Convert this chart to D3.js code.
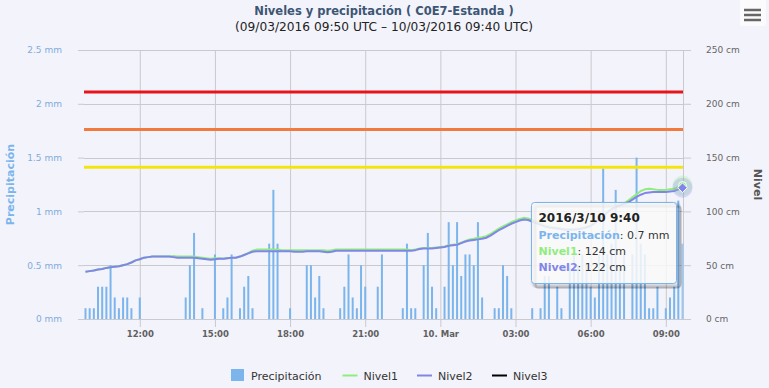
<!DOCTYPE html>
<html>
<head>
<meta charset="utf-8">
<script src="https://cdn.jsdelivr.net/npm/d3@7"></script>
<style>
body { margin: 0; background: #f3f3fb; }
svg { display: block; font-family: "DejaVu Sans", Verdana, sans-serif; }
</style>
</head>
<body>
<div id="chart"></div>
<script>
// datos: una lectura cada 10 minutos, desde 09/03/2016 09:50 UTC
var start = Date.UTC(2016, 2, 9, 9, 50);
var stepMin = 10;

// precipitacion (mm)
var precip = [
	0.1, 0.1, 0.1, 0.3, 0.3, 0.3, 0.5, 0.2, 0.1, 0.2, 0.2, 0.1,
	0, 0.2, 0, 0, 0, 0, 0, 0, 0, 0, 0, 0,
	0.2, 0.5, 0.8, 0, 0.1, 0, 0, 0.6, 0, 0.1, 0.2, 0.6,
	0, 0.1, 0.3, 0.4, 0.1, 0, 0, 0, 0.7, 1.2, 0.7, 0,
	0, 0.1, 0, 0, 0, 0.5, 0.5, 0.2, 0.4, 0.1, 0, 0,
	0, 0.1, 0.3, 0.6, 0.2, 0.1, 0.5, 0.3, 0, 0, 0.3, 0.6,
	0, 0, 0, 0, 0.1, 0.7, 0.1, 0.1, 0, 0.5, 0.8, 0.3,
	0.1, 0, 0.3, 0.9, 0.5, 0.9, 0.4, 0.6, 0.6, 0.5, 0.9, 0.2,
	0, 0, 0.1, 0.1, 0.5, 0.4, 0.1, 0, 0, 0, 0, 0.1,
	0, 0.1, 0.4, 0.4, 0, 0.3, 0.1, 0, 0.5, 0.6, 0.5, 0.6,
	0.5, 0.3, 0.2, 0.6, 1.4, 0.6, 0.7, 1.2, 0.5, 0.6, 0, 0.6,
	1.5, 0.7, 0.6, 0.1, 0.1, 0.3, 0, 0.1, 0.2, 0.3, 1.1, 0.7
];

// nivel 1 (cm)
var nivel1 = [
	44, 44.5, 45, 46, 46.5, 47.5, 48, 48.5, 49, 50, 51, 52.5,
	54.5, 55.5, 57, 57.5, 58, 58, 58, 58, 58, 58.5, 58, 58,
	58, 58, 58, 57.5, 57, 56.5, 56, 56.5, 56.5, 56, 56.5, 57,
	57, 58, 59.5, 61.5, 63.5, 64.5, 64.5, 64.5, 64.5, 64.5, 64.5, 64,
	64, 64, 64, 64, 64, 64, 64, 64, 64, 64, 63.5, 64,
	64.5, 64.5, 64.5, 64.5, 64.5, 64.5, 64.5, 64.5, 64.5, 64.5, 64.5, 64.5,
	64.5, 64.5, 64.5, 64.5, 64.5, 64.5, 64, 64.5, 65.5, 66, 66, 66,
	66.5, 67, 67.5, 68.5, 69, 69.5, 71, 72.5, 74, 74.5, 75.5, 76,
	77, 79, 81.5, 84, 86, 88, 90, 91.5, 93, 94, 93.5, 92,
	90.5, 88.5, 87, 86, 85, 84.5, 84, 83.5, 83.5, 83.5, 84, 84.5,
	85.5, 87, 89.5, 92.5, 96, 99.5, 102.5, 104.5, 106, 107.5, 110, 113,
	116, 119, 120.5, 121, 120.5, 120, 120, 120, 120.5, 121, 122.5, 124
];

// nivel 2 (cm)
var nivel2 = [
	44, 44.5, 45, 46, 46.5, 47.5, 48, 48.5, 49, 50, 51, 52.5,
	54.5, 55.5, 57, 57.5, 58, 58, 58, 58, 58, 57.5, 57, 57,
	57, 57, 57, 56.5, 56, 55.5, 55, 55.5, 56, 56, 56.5, 57,
	57, 58, 59.5, 61, 62.5, 63, 63, 63, 63, 63, 63, 63,
	63, 63, 62.5, 62.5, 62.5, 63, 63, 63, 63, 62.5, 62, 62.5,
	63.5, 63.5, 63.5, 63.5, 63.5, 63.5, 63.5, 63.5, 63.5, 63.5, 63.5, 63.5,
	63.5, 63.5, 63.5, 63.5, 63.5, 63.5, 63.5, 64, 65, 65.5, 65.5, 65.5,
	66, 66.5, 67, 68, 68.5, 69, 70.5, 72, 73, 73.5, 74, 74.5,
	75.5, 77.5, 80, 82.5, 84.5, 86.5, 88.5, 90, 91.5, 92.5, 92, 90.5,
	89, 87.5, 86, 85, 84.5, 84, 83.5, 83, 83, 83, 83.5, 84,
	85, 86.5, 89, 92, 95.5, 99, 102, 104, 105.5, 107, 108.5, 111,
	113.5, 115.5, 117, 117.5, 118, 118, 118, 118, 118.5, 119, 120.5, 122
];

// nivel 3 (cm): sin datos en el periodo
var nivel3 = [];

// umbrales (cm)
var umbrales = [141, 176, 211];

var seriesNames = ["Precipitación", "Nivel1", "Nivel2", "Nivel3"];
var mmTicks = [0, 0.5, 1, 1.5, 2, 2.5];
var cmTicks = [0, 50, 100, 150, 200, 250];

var titulo = "Niveles y precipitación ( C0E7-Estanda )";
var subtitulo = "(09/03/2016 09:50 UTC – 10/03/2016 09:40 UTC)";

// colores
var cPrecip = "#7cb5ec";
var cN1 = "#90ed7d";
var cN2 = "#8085e9";
var cN3 = "#000000";
var cUmbral = ["#f5e50f", "#f27a3c", "#e8141c"];
var cGrid = "#c9c9ce";

var svg_w = 769;
var svg_h = 388;
var plotL = 84, plotR = 683, plotT = 50, plotB = 319;

var svg = d3.select("#chart")
	.append("svg")
	.attr("width", svg_w)
	.attr("height", svg_h);

svg.append("rect")
	.attr("width", svg_w)
	.attr("height", svg_h)
	.attr("fill", "#f3f3fb");

var times = precip.map(function(d, i) {
	return new Date(start + i * stepMin * 60000);
});

// escalas
var x = d3.scaleUtc()
	.domain([times[0], times[times.length - 1]])
	.range([85.5, 682.5]);

var yP = d3.scaleLinear().domain([0, 2.5]).range([plotB, plotT]);
var yN = d3.scaleLinear().domain([0, 250]).range([plotB, plotT]);

var fmtTime = function(d) {
	if (d.getUTCHours() === 0) return d3.utcFormat("%d. %b")(d);
	return d3.utcFormat("%H:%M")(d);
};

// rejilla horizontal
svg.append("g")
	.selectAll("line")
	.data(mmTicks)
	.enter()
	.append("line")
	.attr("x1", plotL)
	.attr("x2", plotR)
	.attr("y1", function(d) { return Math.round(yP(d)) + 0.5; })
	.attr("y2", function(d) { return Math.round(yP(d)) + 0.5; })
	.attr("stroke", cGrid);

// rejilla vertical + eje x
var xAxis = d3.axisBottom(x)
	.ticks(d3.utcHour.every(3))
	.tickFormat(fmtTime)
	.tickSize(8)
	.tickSizeOuter(0)
	.tickPadding(4);

var gx = svg.append("g")
	.attr("transform", "translate(0," + plotB + ")")
	.call(xAxis);
gx.select(".domain").remove();
gx.selectAll(".tick line")
	.attr("y1", plotT - plotB)
	.attr("stroke", cGrid);
gx.selectAll(".tick text")
	.attr("fill", "#606060")
	.attr("font-weight", "bold")
	.attr("font-size", 8.5)
	.attr("font-family", "DejaVu Sans");

// eje izquierdo (mm)
var gl = svg.append("g")
	.attr("transform", "translate(" + plotL + ",0)")
	.call(d3.axisLeft(yP).tickValues(mmTicks).tickSize(6).tickPadding(16)
		.tickFormat(function(d) { return d + " mm"; }));
gl.select(".domain").remove();
gl.selectAll(".tick line").attr("stroke", cGrid);
gl.selectAll(".tick text")
	.attr("fill", "#80acdc")
	.attr("font-size", 9)
	.attr("font-family", "DejaVu Sans");

// eje derecho (cm)
var gr = svg.append("g")
	.attr("transform", "translate(" + plotR + ",0)")
	.call(d3.axisRight(yN).tickValues(cmTicks).tickSize(8).tickSizeOuter(0).tickPadding(15)
		.tickFormat(function(d) { return d + " cm"; }));
gr.select(".domain").attr("stroke", cGrid);
gr.selectAll(".tick line").attr("stroke", cGrid);
gr.selectAll(".tick text")
	.attr("fill", "#666")
	.attr("font-size", 9)
	.attr("font-family", "DejaVu Sans");

// titulos de ejes
svg.append("text")
	.attr("transform", "translate(14," + ((plotT + plotB) / 2) + ") rotate(-90)")
	.attr("text-anchor", "middle")
	.attr("font-size", 11)
	.attr("font-weight", "bold")
	.attr("fill", cPrecip)
	.text(seriesNames[0]);

svg.append("text")
	.attr("transform", "translate(754," + ((plotT + plotB) / 2) + ") rotate(90)")
	.attr("text-anchor", "middle")
	.attr("font-size", 11)
	.attr("font-weight", "bold")
	.attr("fill", "#555")
	.text("Nivel");

// barras de precipitacion
var bars = svg.append("g");
precip.forEach(function(v, i) {
	if (v <= 0) return;
	bars.append("rect")
		.attr("x", x(times[i]) - 1)
		.attr("width", 2)
		.attr("y", yP(v))
		.attr("height", plotB - yP(v))
		.attr("fill", i === precip.length - 1 ? "#9cc8f2" : cPrecip);
});

// umbrales
svg.append("g")
	.selectAll("line")
	.data(umbrales)
	.enter()
	.append("line")
	.attr("x1", plotL)
	.attr("x2", plotR)
	.attr("y1", function(d) { return yN(d); })
	.attr("y2", function(d) { return yN(d); })
	.attr("stroke", function(d, i) { return cUmbral[i]; })
	.attr("stroke-width", 3);

// lineas de nivel
var line = d3.line()
	.x(function(d, i) { return x(times[i]); })
	.y(function(d) { return yN(d); });

svg.append("path")
	.datum(nivel1)
	.attr("d", line)
	.attr("fill", "none")
	.attr("stroke", cN1)
	.attr("stroke-width", 2)
	.attr("stroke-linejoin", "round");

svg.append("path")
	.datum(nivel2)
	.attr("d", line)
	.attr("fill", "none")
	.attr("stroke", cN2)
	.attr("stroke-width", 2)
	.attr("stroke-linejoin", "round");

// marcadores del punto activo
var last = times.length - 1;
var lx = x(times[last]);
svg.append("circle")
	.attr("cx", lx).attr("cy", yN(nivel1[last])).attr("r", 10)
	.attr("fill", cN1).attr("fill-opacity", 0.25);
svg.append("circle")
	.attr("cx", lx).attr("cy", yN(nivel2[last])).attr("r", 10)
	.attr("fill", cN2).attr("fill-opacity", 0.25);
svg.append("circle")
	.attr("cx", lx).attr("cy", yN(nivel1[last])).attr("r", 4)
	.attr("fill", cN1).attr("stroke", "#fff");
svg.append("path")
	.attr("d", d3.symbol().type(d3.symbolDiamond2).size(60)())
	.attr("transform", "translate(" + lx + "," + yN(nivel2[last]) + ")")
	.attr("fill", cN2).attr("stroke", "#fff");

// tooltip
var tip = svg.append("g").attr("transform", "translate(531.5,202.5)");
[3, 2, 1].forEach(function(o) {
	tip.append("rect")
		.attr("x", 1).attr("y", 1)
		.attr("width", 145).attr("height", 81).attr("rx", 3)
		.attr("transform", "translate(" + o + "," + o + ")")
		.attr("fill", "none")
		.attr("stroke", "#000")
		.attr("stroke-opacity", 0.05 * o)
		.attr("stroke-width", 2 * (4 - o));
});
tip.append("rect")
	.attr("width", 145).attr("height", 81).attr("rx", 3)
	.attr("fill", "#f9f9f9").attr("fill-opacity", 0.85)
	.attr("stroke", cPrecip);

tip.append("text")
	.attr("x", 7).attr("y", 19)
	.attr("font-weight", "bold")
	.attr("font-size", 12)
	.attr("fill", "#222")
	.text(d3.utcFormat("%Y/%-m/%-d %-H:%M")(times[last]));

var tipRows = [
	[seriesNames[0], cPrecip, precip[last] + " mm"],
	[seriesNames[1], cN1, nivel1[last] + " cm"],
	[seriesNames[2], cN2, nivel2[last] + " cm"]
];
tipRows.forEach(function(r, k) {
	var t = tip.append("text")
		.attr("x", 7).attr("y", 36 + k * 16)
		.attr("font-size", 11)
		.attr("fill", "#333");
	t.append("tspan").attr("font-weight", "bold").attr("fill", r[1]).text(r[0]);
	t.append("tspan").text(": " + r[2]);
});

// titulo
svg.append("text")
	.attr("x", 384).attr("y", 15)
	.attr("text-anchor", "middle")
	.attr("font-size", 11.5)
	.attr("font-weight", "bold")
	.attr("fill", "#3d5674")
	.text(titulo);

svg.append("text")
	.attr("x", 384).attr("y", 31)
	.attr("text-anchor", "middle")
	.attr("font-size", 12.2)
	.attr("fill", "#222")
	.text(subtitulo);

// leyenda
var leg = svg.append("g").attr("font-size", 11).attr("fill", "#333");
leg.append("rect").attr("x", 231).attr("y", 369).attr("width", 13).attr("height", 12).attr("fill", cPrecip);
leg.append("text").attr("x", 251).attr("y", 380).text(seriesNames[0]);
var legLines = [[342.5, cN1, seriesNames[1]], [417, cN2, seriesNames[2]], [492, cN3, seriesNames[3]]];
legLines.forEach(function(l) {
	leg.append("line")
		.attr("x1", l[0]).attr("x2", l[0] + 15)
		.attr("y1", 375.5).attr("y2", 375.5)
		.attr("stroke", l[1]).attr("stroke-width", 2);
	leg.append("text").attr("x", l[0] + 21).attr("y", 380).text(l[2]);
});

// boton de menu
svg.append("rect")
	.attr("x", 740).attr("y", -3).attr("width", 26).attr("height", 29).attr("rx", 2)
	.attr("fill", "#fbfbfe");
[10, 15, 20].forEach(function(yy) {
	svg.append("line")
		.attr("x1", 744).attr("x2", 761)
		.attr("y1", yy).attr("y2", yy)
		.attr("stroke", "#666").attr("stroke-width", 2.5);
});
</script>
</body>
</html>
